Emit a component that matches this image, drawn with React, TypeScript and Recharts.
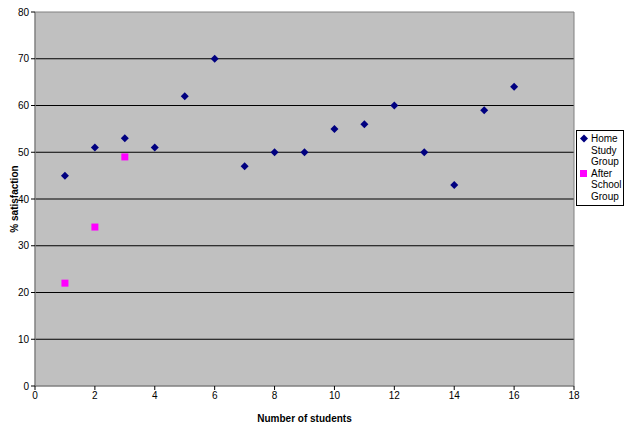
import React from 'react';
import { ScatterChart, Scatter, XAxis, YAxis, CartesianGrid, Label, ReferenceArea } from 'recharts';

const homeX = [1, 2, 3, 4, 5, 6, 7, 8, 9, 10, 11, 12, 13, 14, 15, 16];
const homeY = [45, 51, 53, 51, 62, 70, 47, 50, 50, 55, 56, 60, 50, 43, 59, 64];
const afterX = [1, 2, 3];
const afterY = [22, 34, 49];
const xTicks = [0, 2, 4, 6, 8, 10, 12, 14, 16, 18];
const yTicks = [0, 10, 20, 30, 40, 50, 60, 70, 80];
const seriesNames = ['Home Study Group', 'After School Group'];

const homeData = homeX.map((x, i) => ({ x, y: homeY[i] }));
const afterData = afterX.map((x, i) => ({ x, y: afterY[i] }));

const FONT = '"Liberation Sans", Arial, sans-serif';

const Diamond = (props: any) => {
  const { cx, cy } = props;
  const r = 4;
  return <polygon points={`${cx},${cy - r} ${cx + r},${cy} ${cx},${cy + r} ${cx - r},${cy}`} fill="#000080" />;
};
const Square = (props: any) => {
  const { cx, cy } = props;
  const s = 7;
  return <rect x={cx - s / 2} y={cy - s / 2} width={s} height={s} fill="#FF00FF" />;
};

const LegendBox = () => (
  <div style={{ position: 'absolute', left: 576, top: 130, border: '1px solid #000', background: '#fff', width: 46, padding: '2px 0 3px 0', fontFamily: FONT, fontSize: 10, lineHeight: '11.5px', color: '#000' }}>
    <div style={{ display: 'flex' }}>
      <svg width={14} height={11}><polygon points="7,1.5 11,5.5 7,9.5 3,5.5" fill="#000080" /></svg>
      <div>{seriesNames[0].split(' ').map((w, i) => <div key={i}>{w}</div>)}</div>
    </div>
    <div style={{ display: 'flex' }}>
      <svg width={14} height={11}><rect x={3} y={2} width={7} height={7} fill="#FF00FF" /></svg>
      <div>{seriesNames[1].split(' ').map((w, i) => <div key={i}>{w}</div>)}</div>
    </div>
  </div>
);

export default function App() {
  return (
    <div style={{ position: 'absolute', left: 0, top: 0, width: 630, height: 424, background: '#fff' }}>
      <ScatterChart width={630} height={424} margin={{ top: 12, right: 56, bottom: 6, left: 0 }}>
        <CartesianGrid fill="#C0C0C0" stroke="#000" strokeWidth={1} vertical={false} horizontalValues={[10, 20, 30, 40, 50, 60, 70]} />
        <ReferenceArea x1={0} x2={18} y1={0} y2={80} fill="none" stroke="#808080" strokeWidth={1} ifOverflow="visible" />
        <XAxis type="number" dataKey="x" domain={[0, 18]} ticks={xTicks} interval={0} height={32}
          tick={{ fontSize: 10, fill: '#000', fontFamily: FONT }} stroke="#808080" tickSize={4} tickLine={{ stroke: '#000' }}>
          <Label value="Number of students" position="insideBottom" offset={-4} style={{ fontSize: 10, fontWeight: 'bold', fill: '#000', fontFamily: FONT }} />
        </XAxis>
        <YAxis type="number" dataKey="y" domain={[0, 80]} ticks={yTicks} interval={0} width={35}
          tick={{ fontSize: 10, fill: '#000', fontFamily: FONT }} stroke="#808080" tickSize={4} tickLine={{ stroke: '#000' }}>
          <Label value="% satisfaction" angle={-90} position="insideLeft" offset={14} style={{ fontSize: 10, fontWeight: 'bold', fill: '#000', fontFamily: FONT, textAnchor: 'middle' }} />
        </YAxis>
        <Scatter name={seriesNames[0]} data={homeData} shape={<Diamond />} isAnimationActive={false} />
        <Scatter name={seriesNames[1]} data={afterData} shape={<Square />} isAnimationActive={false} />
      </ScatterChart>
      <LegendBox />
    </div>
  );
}
